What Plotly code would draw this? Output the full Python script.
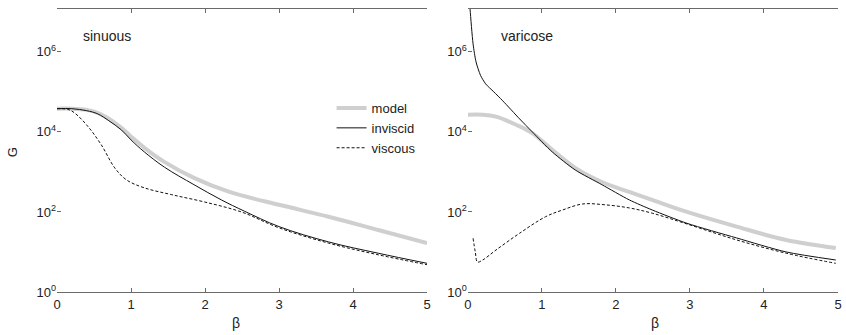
import plotly.graph_objects as go

# ---------------- data ----------------
# sinuous panel
beta_s_model = [0, 0.2, 0.4, 0.55, 0.7, 0.87, 1.0, 1.18, 1.45, 1.85, 2.33, 3.0, 3.67, 4.34, 5.0]
G_s_model = [38000, 38000, 35500, 30000, 21400, 12600, 7600, 4000, 1780, 710, 316, 151, 76, 35.5, 16.6]

beta_s_inv = [0, 0.2, 0.4, 0.55, 0.7, 0.87, 1.0, 1.18, 1.45, 1.85, 2.22, 2.53, 3.0, 3.67, 4.34, 5.0]
G_s_inv = [38000, 38000, 33900, 28200, 19000, 11200, 6300, 3160, 1320, 480, 200, 105, 43, 17.8, 9.3, 5.2]

beta_s_visc = [0, 0.15, 0.24, 0.42, 0.6, 0.78, 0.94, 1.18, 1.55, 1.99, 2.49, 3.0, 3.67, 4.34, 5.0]
G_s_visc = [38000, 36300, 29500, 13500, 4700, 1260, 630, 400, 270, 178, 100, 40, 16.6, 8.5, 4.8]

# varicose panel
beta_v_model = [0, 0.2, 0.38, 0.65, 0.87, 1.14, 1.45, 1.81, 2.18, 2.49, 2.96, 3.63, 4.3, 4.97]
G_v_model = [26900, 26900, 24000, 15100, 9300, 3550, 1260, 560, 316, 200, 100, 43, 20, 12.6]

beta_v_inv = [0.02, 0.03, 0.07, 0.11, 0.17, 0.24, 0.35, 0.47, 0.7, 0.87, 1.14, 1.45, 1.81, 2.18, 2.49, 2.96, 3.63, 4.3, 4.97]
G_v_inv = [2e7, 1.12e7, 1.58e6, 5.6e5, 2.6e5, 1.58e5, 1.0e5, 60000, 21000, 10000, 3160, 1120, 480, 200, 112, 52, 22.4, 10, 6.3]

beta_v_visc = [0.07, 0.1, 0.13, 0.2, 0.38, 0.7, 1.05, 1.28, 1.55, 1.85, 2.18, 2.49, 2.96, 3.63, 4.3, 4.97]
G_v_visc = [22, 10, 5.6, 6.3, 11.2, 29.5, 76, 112, 158, 151, 126, 93, 50, 20, 9.3, 5.2]

x_ticks = [0, 1, 2, 3, 4, 5]
y_ticks = [1, 100, 1e4, 1e6]
y_ticktext = ["10<sup>0</sup>", "10<sup>2</sup>", "10<sup>4</sup>", "10<sup>6</sup>"]

# ---------------- figure ----------------
FONT = "Liberation Sans, Arial, Helvetica, sans-serif"
model_style = dict(color="#cfcfcf", width=4)
inv_style = dict(color="#111111", width=1)
visc_style = dict(color="#111111", width=1, dash="3px,2px")

fig = go.Figure()
fig.add_trace(go.Scatter(x=beta_s_model, y=G_s_model, mode="lines", name="model",
                         line=model_style, line_shape="spline", xaxis="x", yaxis="y"))
fig.add_trace(go.Scatter(x=beta_s_inv, y=G_s_inv, mode="lines", name="inviscid",
                         line=inv_style, line_shape="spline", xaxis="x", yaxis="y"))
fig.add_trace(go.Scatter(x=beta_s_visc, y=G_s_visc, mode="lines", name="viscous",
                         line=visc_style, line_shape="spline", xaxis="x", yaxis="y"))
fig.add_trace(go.Scatter(x=beta_v_model, y=G_v_model, mode="lines", name="model",
                         line=model_style, line_shape="spline", xaxis="x2", yaxis="y2", showlegend=False))
fig.add_trace(go.Scatter(x=beta_v_inv, y=G_v_inv, mode="lines", name="inviscid",
                         line=inv_style, line_shape="spline", line_smoothing=0.7,
                         xaxis="x2", yaxis="y2", showlegend=False))
fig.add_trace(go.Scatter(x=beta_v_visc, y=G_v_visc, mode="lines", name="viscous",
                         line=visc_style, line_shape="spline", xaxis="x2", yaxis="y2", showlegend=False))

ML, MR, MT, MB = 57, 4, 9, 43
W, H = 846, 335
PW, PH = W - ML - MR, H - MT - MB


def px(xp):
    return (xp - ML) / PW


def py(yp):
    return (H - MB - yp) / PH


axis_line = "#6a6a6a"
xcommon = dict(range=[0, 5], tickvals=x_ticks, ticks="inside", ticklen=4, tickcolor=axis_line,
               showline=True, linecolor=axis_line, linewidth=1, mirror="ticks",
               showgrid=False, zeroline=False, tickfont=dict(size=13, color="#222"))
ycommon = dict(type="log", range=[0, 7.07], tickvals=y_ticks, ticktext=y_ticktext,
               ticks="inside", ticklen=4, tickcolor=axis_line, showline=False,
               showgrid=False, zeroline=False, tickfont=dict(size=13, color="#222"))
yright = dict(type="log", range=[0, 7.07], tickvals=y_ticks, ticks="inside", ticklen=4,
              tickcolor=axis_line, showline=True, linecolor="#333", linewidth=1,
              showticklabels=False, showgrid=False, zeroline=False, side="right")

fig.update_layout(
    width=W, height=H,
    margin=dict(l=ML, r=MR, t=MT, b=MB),
    paper_bgcolor="white", plot_bgcolor="white",
    font=dict(family=FONT, size=13, color="#222"),
    xaxis=dict(domain=[0, px(429)], anchor="y", **xcommon),
    yaxis=dict(domain=[0, 1], anchor="x", **ycommon),
    xaxis2=dict(domain=[px(470), 1], anchor="y2", **xcommon),
    yaxis2=dict(domain=[0, 1], anchor="x2", **ycommon),
    yaxis3=dict(overlaying="y", anchor="x", **yright),
    yaxis4=dict(overlaying="y2", anchor="x2", **yright),
    showlegend=True,
    legend=dict(x=px(333), y=py(93), xanchor="left", yanchor="top",
                bgcolor="rgba(0,0,0,0)", font=dict(size=13, color="#222"),
                tracegroupgap=0, itemwidth=30),
    annotations=[
        dict(text="G", x=px(12), y=py(152), xref="paper", yref="paper", showarrow=False,
             xanchor="center", yanchor="middle", textangle=-90, font=dict(size=13)),
        dict(text="β", x=px(237), y=py(323), xref="paper", yref="paper", showarrow=False,
             xanchor="center", yanchor="middle", font=dict(size=14)),
        dict(text="β", x=px(658), y=py(323), xref="paper", yref="paper", showarrow=False,
             xanchor="center", yanchor="middle", font=dict(size=14)),
        dict(text="sinuous", x=px(81), y=py(36), xref="paper", yref="paper", showarrow=False,
             xanchor="left", yanchor="middle", font=dict(size=14)),
        dict(text="varicose", x=px(501), y=py(36), xref="paper", yref="paper", showarrow=False,
             xanchor="left", yanchor="middle", font=dict(size=14)),
    ],
)

fig.write_html("out.html")
